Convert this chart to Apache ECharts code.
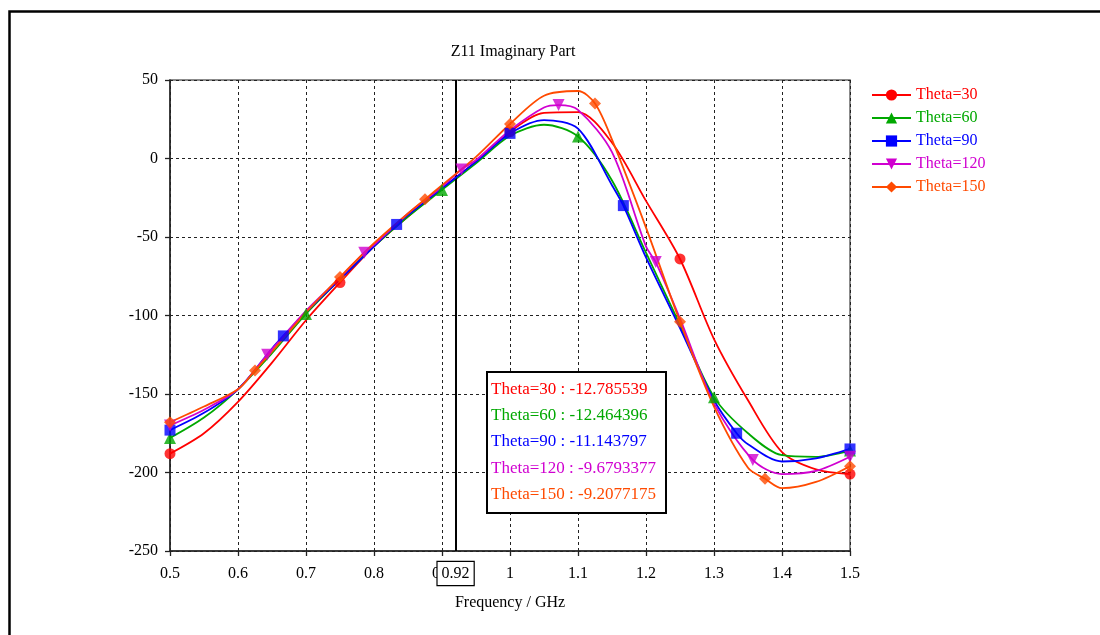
<!DOCTYPE html>
<html>
<head>
<meta charset="utf-8">
<script src="https://cdn.jsdelivr.net/npm/echarts@6/dist/echarts.min.js"></script>
<style>html,body{margin:0;padding:0;background:#fff;}#c{width:1100px;height:635px;}</style>
</head>
<body>
<div id="c"></div>
<script>
// ---- data ----
const seriesNames = ['Theta=30', 'Theta=60', 'Theta=90', 'Theta=120', 'Theta=150'];
const freq = [0.5,0.55,0.6,0.65,0.7,0.75,0.8,0.85,0.9,0.95,1.0,1.05,1.1,1.15,1.2,1.25,1.3,1.35,1.4,1.45,1.5];
const theta30  = [-188,-175,-155,-130,-103,-79,-56,-37,-19,-2,17,29,29.5,10,-27,-64,-115,-154,-187,-198,-201];
const theta60  = [-178,-165,-147,-124,-99,-77,-56,-37,-20,-3,14.5,21.5,14,-14,-60,-106,-152,-175,-189,-190,-186];
const theta90  = [-173,-162,-147,-121,-98,-77,-56,-36,-19,-2,16,24.5,19,-17,-63,-108,-154,-182,-193,-191,-185];
const theta120 = [-170,-160,-147,-121,-97,-76,-55,-35,-18,-1,18,32.5,31,4,-56,-102,-156,-190,-201,-199,-190];
const theta150 = [-168,-158,-147,-123,-98,-75.5,-54,-35,-17,1,22,40,43,12,-44,-104,-158,-197,-210,-206,-196];

// marker positions (frequency, value)
const mark30x  = [0.5,0.75,1.0,1.25,1.5];
const mark30y  = [-188,-79,17,-64,-201];
const mark60x  = [0.5,0.7,0.9,1.1,1.3,1.5];
const mark60y  = [-178,-99,-20,14,-152,-186];
const mark90x  = [0.5,0.6667,0.8333,1.0,1.1667,1.3333,1.5];
const mark90y  = [-173,-113,-42,16,-30,-175,-185];
const mark120x = [0.5,0.6429,0.7857,0.9286,1.0714,1.2143,1.3571,1.5];
const mark120y = [-170,-125,-60,-7,34,-66,-192,-190];
const mark150x = [0.5,0.625,0.75,0.875,1.0,1.125,1.25,1.375,1.5];
const mark150y = [-168,-135,-75.5,-26,22,35,-104,-204,-196];

const cursorFreq = 0.92;
const cursorValues = ['-12.785539','-12.464396','-11.143797','-9.6793377','-9.2077175'];

const yTicks = {min: -250, max: 50, step: 50};
const xTicks = {min: 0.5, max: 1.5, step: 0.1};

// ---- styles ----
const colors = ['#ff0000', '#00a800', '#0000ff', '#d000d0', '#ff4a00'];
const symbols = ['circle', 'triangle', 'rect', 'triangle', 'diamond'];
const rotates = [0, 0, 0, 180, 0];
const sizes = [11, 12, 11, 12, 12];
const FONT = '"Liberation Serif", "Times New Roman", serif';

const lineVals = [theta30, theta60, theta90, theta120, theta150];
const markX = [mark30x, mark60x, mark90x, mark120x, mark150x];
const markY = [mark30y, mark60y, mark90y, mark120y, mark150y];

// line data: grid samples merged with marker samples so the curve passes through markers
function mergedData(i) {
  const pts = markX[i].map((f, k) => [f, markY[i][k]]);
  freq.forEach((f, k) => {
    if (!markX[i].some(m => Math.abs(m - f) < 0.012)) pts.push([f, lineVals[i][k]]);
  });
  pts.sort((a, b) => a[0] - b[0]);
  return pts;
}

const series = [];
seriesNames.forEach((name, i) => {
  series.push({
    name: name,
    type: 'line',
    data: mergedData(i),
    smooth: 0.3,
    showSymbol: false,
    symbol: symbols[i],
    symbolRotate: rotates[i],
    symbolSize: sizes[i],
    itemStyle: {color: colors[i]},
    lineStyle: {color: colors[i], width: 1.8},
    z: 3 + i,
    markLine: i === 0 ? {
      silent: true,
      symbol: 'none',
      lineStyle: {color: '#000', type: 'solid', width: 2},
      label: {
        show: true, position: 'start', distance: 11,
        formatter: String(cursorFreq),
        fontFamily: FONT, fontSize: 16, color: '#000',
        backgroundColor: '#fff', borderColor: '#000', borderWidth: 1.2,
        padding: [4, 4, 3, 4]
      },
      data: [{xAxis: cursorFreq}]
    } : undefined
  });
  series.push({
    name: name,
    type: 'scatter',
    data: markX[i].map((f, k) => [f, markY[i][k]]),
    symbol: symbols[i],
    symbolRotate: rotates[i],
    symbolSize: sizes[i],
    itemStyle: {color: colors[i]},
    z: 10 + i
  });
});

const boxLeft = 486, boxTop = 371;
const annotation = [{
  type: 'rect', left: boxLeft, top: boxTop, z: 100,
  shape: {width: 179, height: 141},
  style: {fill: '#fff', stroke: '#000', lineWidth: 2}
}];
seriesNames.forEach((name, i) => {
  annotation.push({
    type: 'text', left: boxLeft + 5, top: boxTop + 10 + i * 26.2, z: 101,
    style: {text: name + ' : ' + cursorValues[i], fill: colors[i], font: '17px ' + FONT}
  });
});
annotation.push({
  type: 'rect', left: 7, top: 9, z: 0,
  shape: {width: 1200, height: 800},
  style: {fill: 'none', stroke: '#000', lineWidth: 2.5}
});

const chart = echarts.init(document.getElementById('c'));
chart.setOption({
  animation: false,
  backgroundColor: '#fff',
  title: {
    text: 'Z11 Imaginary Part', left: 508, top: 39, textAlign: 'center',
    textStyle: {fontFamily: FONT, fontSize: 16, fontWeight: 'normal', color: '#000'}
  },
  legend: {
    data: seriesNames.map((n, i) => ({name: n, textStyle: {color: colors[i]}})),
    orient: 'vertical', left: 866, top: 82,
    itemWidth: 39, itemHeight: 14, itemGap: 7,
    textStyle: {fontFamily: FONT, fontSize: 16, lineHeight: 16},
    selectedMode: false
  },
  grid: {left: 170, right: 250, top: 80, bottom: 84, show: true, borderColor: '#666', borderWidth: 1.5, backgroundColor: 'transparent'},
  xAxis: {
    type: 'value', min: xTicks.min, max: xTicks.max, interval: xTicks.step,
    name: 'Frequency / GHz', nameLocation: 'middle', nameGap: 44,
    nameTextStyle: {fontFamily: FONT, fontSize: 16, color: '#000'},
    axisLine: {onZero: false, lineStyle: {color: '#222', width: 1.5}},
    axisTick: {show: true, length: 5, lineStyle: {color: '#222', width: 1.3}},
    axisLabel: {fontFamily: FONT, fontSize: 16, color: '#000', margin: 15},
    splitLine: {show: true, lineStyle: {color: '#222', type: [3, 3], width: 1}}
  },
  yAxis: {
    type: 'value', min: yTicks.min, max: yTicks.max, interval: yTicks.step,
    axisLine: {show: true, onZero: false, lineStyle: {color: '#222', width: 1.5}},
    axisTick: {show: true, length: 5, lineStyle: {color: '#222', width: 1.3}},
    axisLabel: {fontFamily: FONT, fontSize: 16, color: '#000', margin: 12},
    splitLine: {show: true, lineStyle: {color: '#222', type: [3, 3], width: 1}}
  },
  graphic: annotation,
  series: series
});
</script>
</body>
</html>
